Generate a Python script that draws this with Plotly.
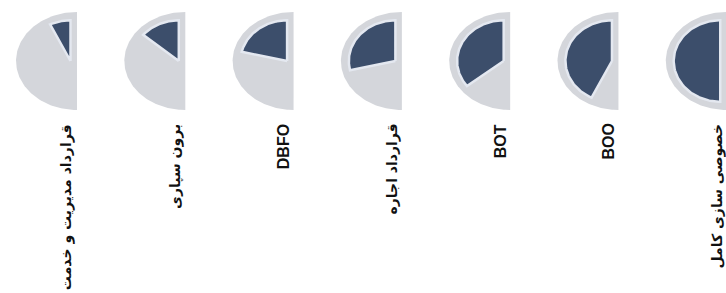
import numpy as np
import plotly.graph_objects as go

# Data: contract types and share of the half-disc (degrees out of 180) that is dark
labels = ["قرارداد مدیریت و خدمت", "برون سپاری", "DBFO", "قرارداد اجاره", "BOT", "BOO", "خصوصی سازی کامل"]
angles = [26, 50, 77, 103, 128, 154, 180]

# style / geometry
OUTER = "#d4d6db"
DARK = "#3c4e6b"
RING = "#e4e8f0"
RX, RY = 0.563, 1.0          # outer half-ellipse semi-axes (axis units)
RX_IN, RY_IN = 0.43, 0.83    # inner sector semi-axes
IN_OFF = 0.06                # inner centre shift to the left

fig = go.Figure()
for i, (lab, a) in enumerate(zip(labels, angles)):
    t = np.radians(np.linspace(90, 270, 120))
    xo = np.concatenate([i + RX * np.cos(t), [i]])
    yo = np.concatenate([RY * np.sin(t), [RY]])
    fig.add_trace(go.Scatter(x=xo, y=yo, mode="lines", fill="toself",
                             fillcolor=OUTER, line=dict(color=OUTER, width=0),
                             hoverinfo="skip", showlegend=False))
    cx = i - IN_OFF
    ti = np.radians(np.linspace(90, 90 + a, 100))
    xi = np.concatenate([[cx], cx + RX_IN * np.cos(ti), [cx]])
    yi = np.concatenate([[0], RY_IN * np.sin(ti), [0]])
    fig.add_trace(go.Scatter(x=xi, y=yi, mode="lines", fill="toself",
                             fillcolor=DARK, line=dict(color=RING, width=2.5),
                             hoverinfo="skip", showlegend=False))
    latin = lab.isascii()
    fig.add_annotation(x=i - 0.09, xref="x", y=0.584, yref="paper",
                       text="<b>" + lab + "</b>", textangle=-90,
                       xanchor="center", yanchor="top", showarrow=False,
                       font=dict(family="Liberation Sans, Arial, sans-serif" if latin else "DejaVu Sans, sans-serif",
                                 size=16 if latin else 14, color="#111111"))

fig.update_layout(width=726, height=293, margin=dict(l=0, r=0, t=0, b=0),
                  paper_bgcolor="white", plot_bgcolor="white",
                  xaxis=dict(range=[-0.711, 5.993], visible=False, fixedrange=True),
                  yaxis=dict(range=[-4.735, 1.245], visible=False, fixedrange=True))
fig.write_html("out.html", config={"displayModeBar": False},
               post_script="document.body.style.margin='0';document.body.style.overflow='hidden';")
